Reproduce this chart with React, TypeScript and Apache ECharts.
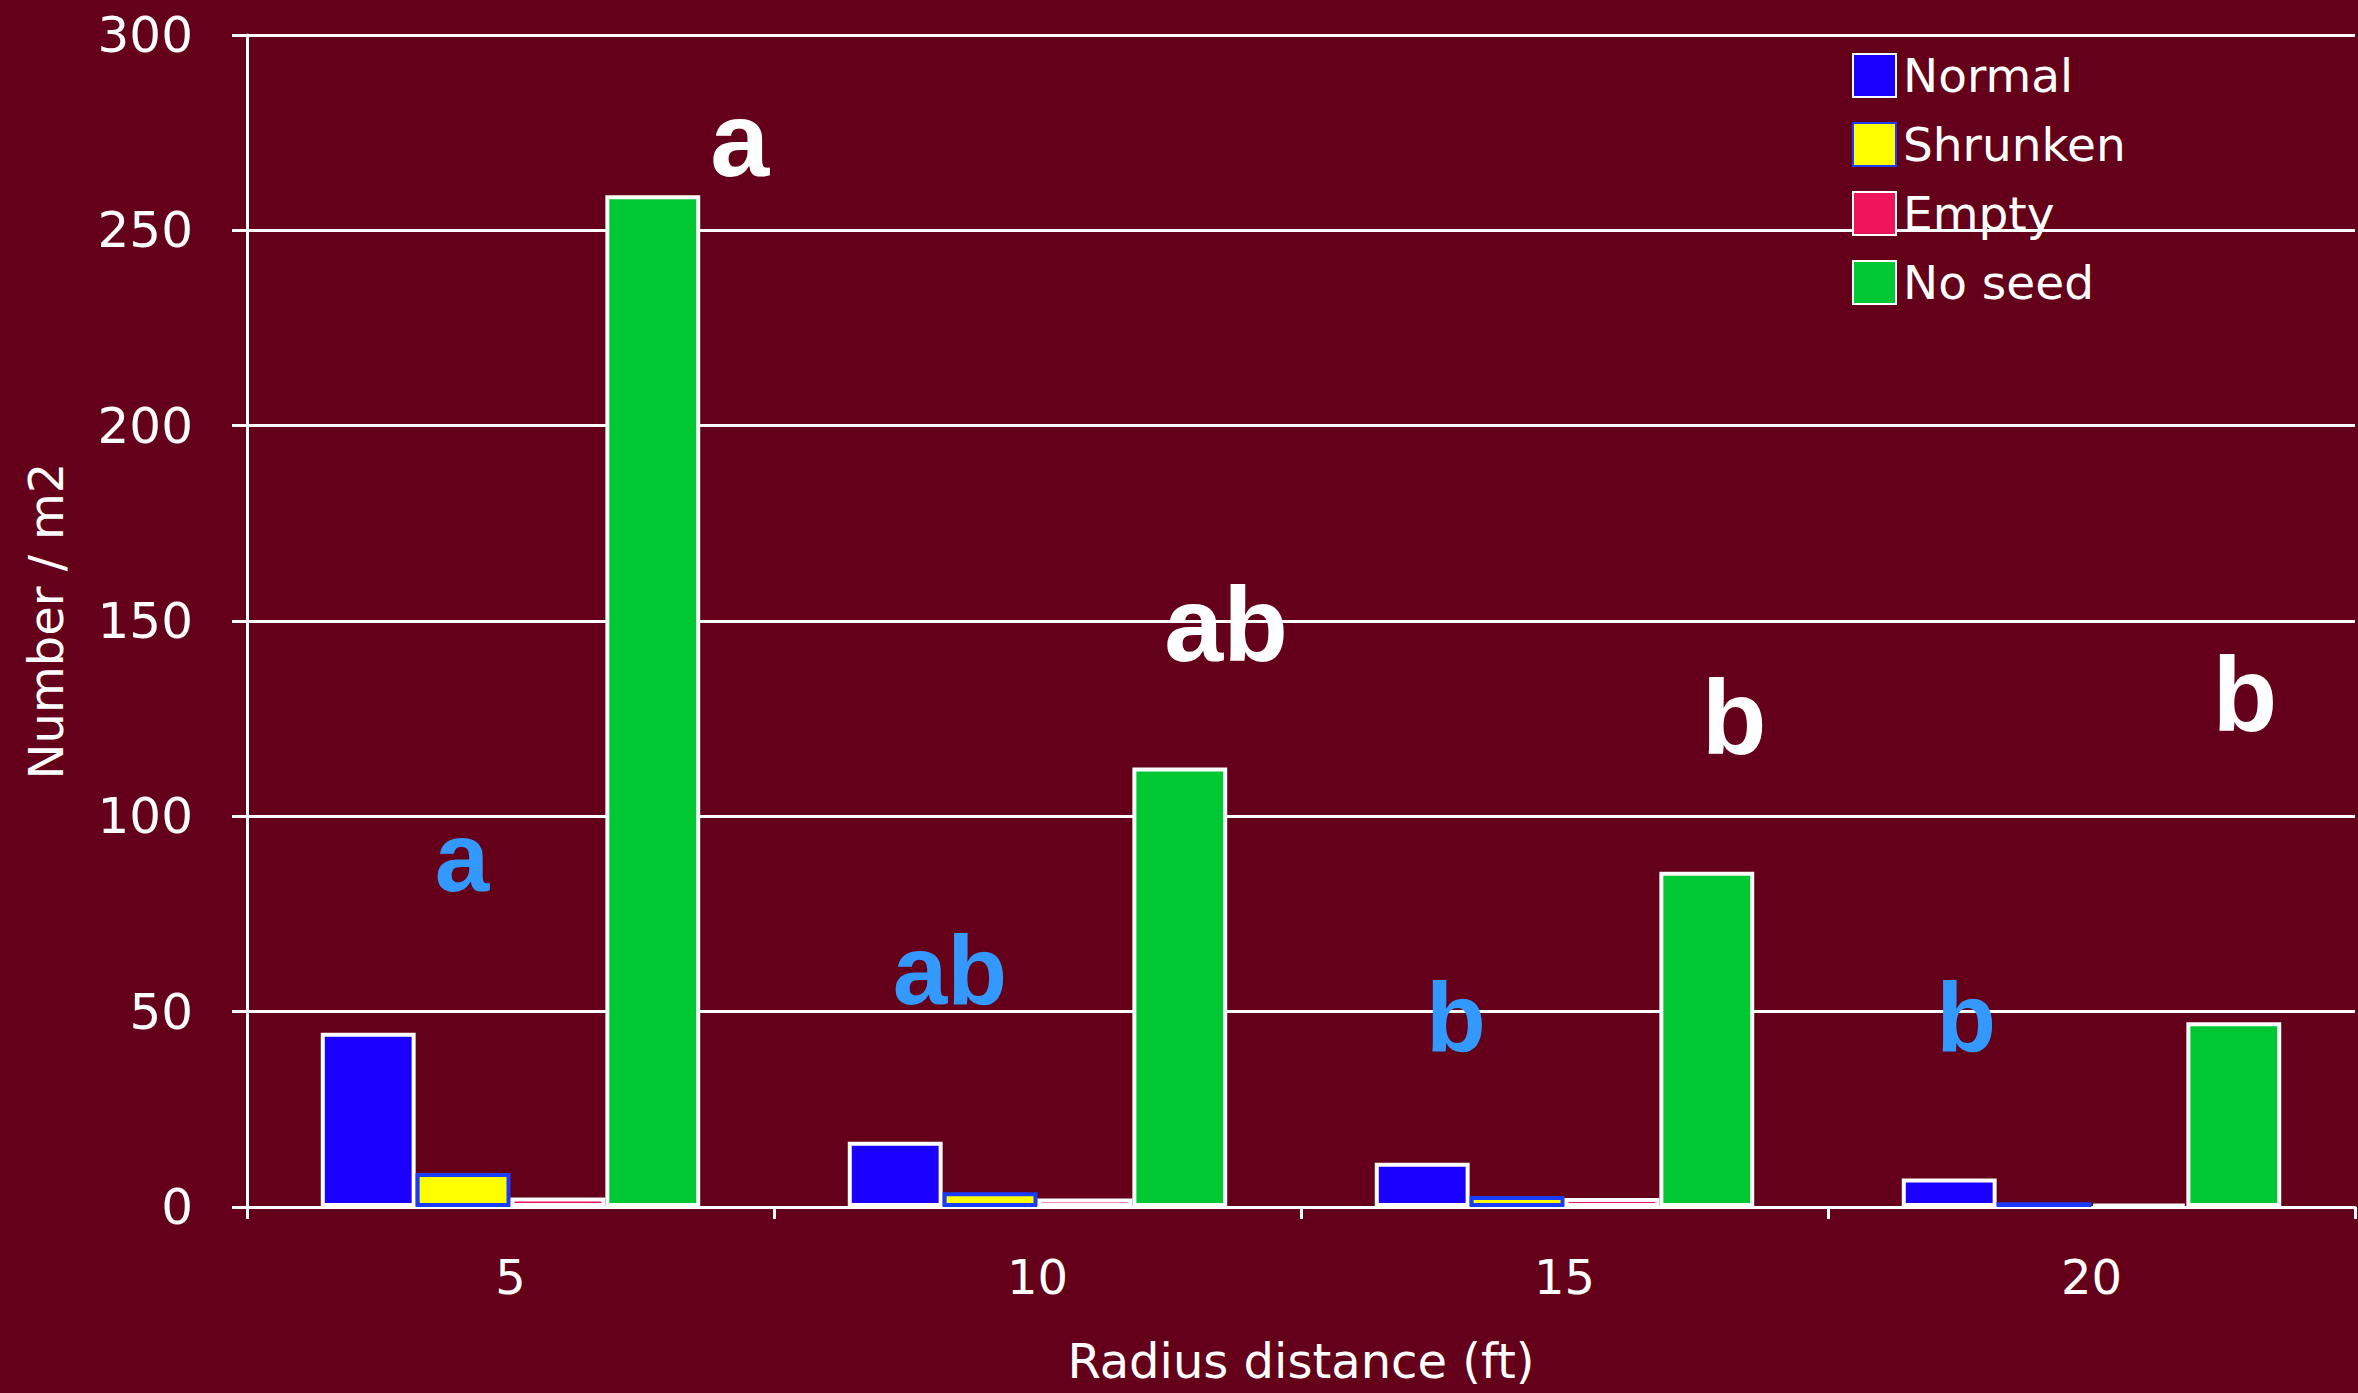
import React, { useEffect, useRef } from "react";
import * as echarts from "echarts";

const categories = ["5", "10", "15", "20"];
const normal = [44.6, 16.7, 11.3, 7.3];
const shrunken = [8.7, 3.8, 2.8, 1.2];
const empty = [2.4, 2.2, 2.3, 0.8];
const noSeed = [259, 112.5, 85.8, 47.3];
const yTicks = { min: 0, max: 300, interval: 50 };

// significance letters: [x position in category units, y value, text]
const whiteLetters: [number, number, string][] = [
  [0.935, 273.4, "a"],
  [1.858, 149.2, "ab"],
  [2.822, 125.4, "b"],
  [3.791, 131.3, "b"],
];
const blueLetters: [number, number, string][] = [
  [0.408, 89.6, "a"],
  [1.334, 60.7, "ab"],
  [2.294, 48.6, "b"],
  [3.262, 48.6, "b"],
];

const BG = "#640019";
const FONT = "DejaVu Sans";
const LETTER_FONT = "'Liberation Sans Narrow', 'Liberation Sans', sans-serif";

export default function App() {
  const ref = useRef<HTMLDivElement>(null);
  useEffect(() => {
    if (!ref.current) return;
    const chart = echarts.init(ref.current, null, { renderer: "svg" });
    const barBase = {
      type: "bar",
      xAxisIndex: 0,
      yAxisIndex: 0,
      barGap: "0%",
      barCategoryGap: "28%",
    };
    const letterSeries = (name: string, data: any[], color: string, size: number) => ({
      type: "scatter",
      name,
      xAxisIndex: 1,
      yAxisIndex: 0,
      symbolSize: 0,
      silent: true,
      itemStyle: { opacity: 1 },
      data,
      label: {
        show: true,
        position: "inside",
        formatter: (p: any) => p.value[2],
        color,
        opacity: 1,
        fontSize: size,
        fontWeight: "bold",
        fontFamily: LETTER_FONT,
        align: "center",
        verticalAlign: "middle",
        textBorderWidth: 0,
      },
    });
    chart.setOption({
      animation: false,
      backgroundColor: BG,
      textStyle: { fontFamily: FONT },
      grid: { left: 247, right: 3, top: 35, bottom: 186, containLabel: false },
      legend: {
        orient: "vertical",
        left: 1847,
        top: 47,
        itemWidth: 43,
        itemHeight: 43,
        itemGap: 22,
        icon: "rect",
        data: ["Normal", "Shrunken", "Empty", "No seed"],
        textStyle: { color: "#ffffff", fontSize: 47, fontFamily: FONT, padding: [0, 0, 0, 2] },
      },
      xAxis: [
        {
          type: "category",
          data: categories,
          boundaryGap: true,
          axisLine: { show: true, lineStyle: { color: "#ffffff", width: 3 } },
          axisTick: { show: true, length: 12, interval: 0, lineStyle: { color: "#ffffff", width: 3 } },
          axisLabel: { color: "#ffffff", fontSize: 48, fontFamily: FONT, margin: 46 },
          name: "Radius distance (ft)",
          nameLocation: "middle",
          nameGap: 130,
          nameTextStyle: { color: "#ffffff", fontSize: 48, fontFamily: FONT },
          splitLine: { show: false },
        },
        {
          type: "value",
          min: 0,
          max: 4,
          show: false,
          splitLine: { show: false },
        },
      ],
      yAxis: {
        type: "value",
        min: yTicks.min,
        max: yTicks.max,
        interval: yTicks.interval,
        axisLine: { show: true, lineStyle: { color: "#ffffff", width: 3 } },
        axisTick: { show: true, length: 15, lineStyle: { color: "#ffffff", width: 3 } },
        axisLabel: { color: "#ffffff", fontSize: 50, fontFamily: FONT, margin: 54 },
        splitLine: { show: true, lineStyle: { color: "#ffffff", width: 3 } },
        name: "Number / m2",
        nameLocation: "middle",
        nameGap: 177,
        nameTextStyle: { color: "#ffffff", fontSize: 48, fontFamily: FONT },
      },
      series: [
        {
          ...barBase,
          name: "Normal",
          data: normal,
          itemStyle: { color: "#1a00ff", borderColor: "#ffffff", borderWidth: 4 },
        },
        {
          ...barBase,
          name: "Shrunken",
          data: shrunken,
          itemStyle: { color: "#ffff00", borderColor: "#1a3cff", borderWidth: 4 },
        },
        {
          ...barBase,
          name: "Empty",
          data: empty,
          itemStyle: { color: "#f0145a", borderColor: "#ffffff", borderWidth: 4 },
        },
        {
          ...barBase,
          name: "No seed",
          data: noSeed,
          itemStyle: { color: "#00c832", borderColor: "#ffffff", borderWidth: 4 },
        },
        letterSeries("sigWhite", whiteLetters, "#ffffff", 106),
        letterSeries("sigBlue", blueLetters, "#3399ff", 98),
      ],
    });
    return () => chart.dispose();
  }, []);
  return (
    <div
      ref={ref}
      style={{ position: "fixed", left: 0, top: 0, width: 2358, height: 1393 }}
    />
  );
}
